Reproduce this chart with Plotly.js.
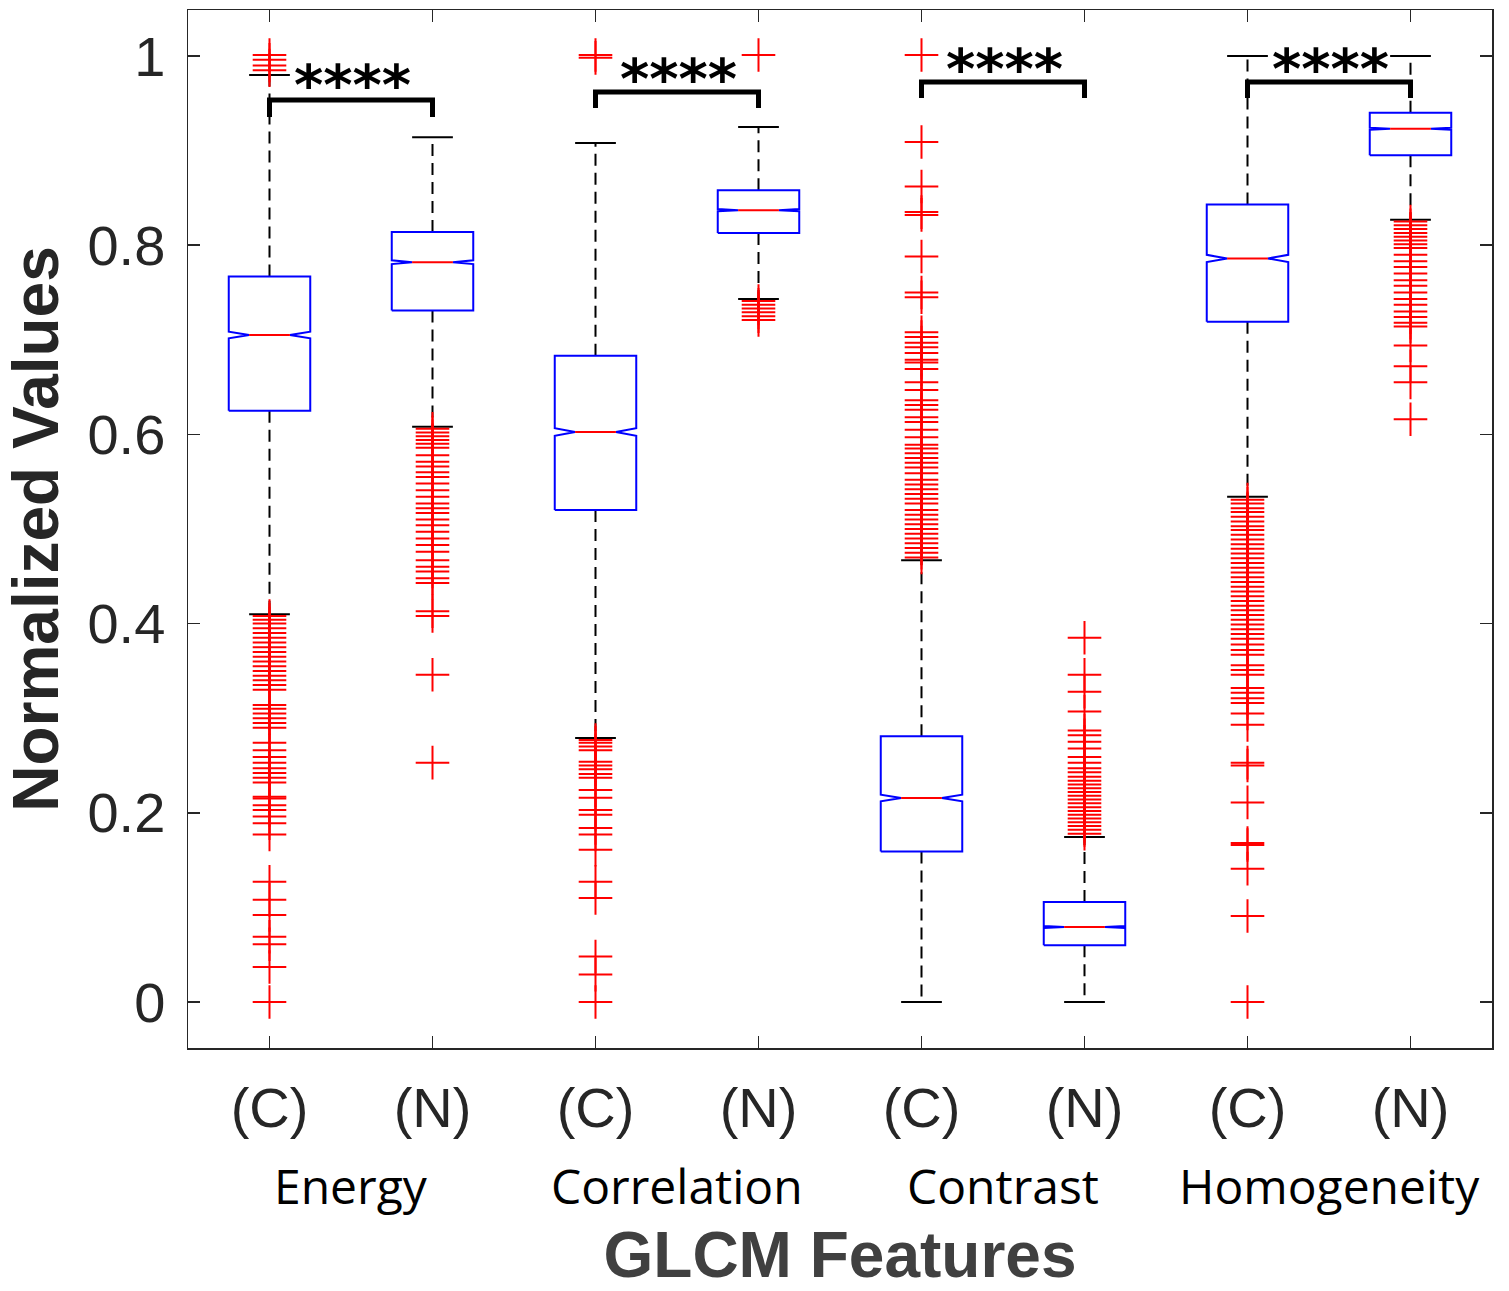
<!DOCTYPE html>
<html><head><meta charset="utf-8">
<script src="https://cdn.plot.ly/plotly-3.0.1.min.js"></script>
<style>html,body{margin:0;padding:0;background:#fff;} #chart{width:1509px;height:1291px;}</style>
</head><body><div id="chart"></div>
<script>
// ---- data ----
const categories = ['(C)','(N)','(C)','(N)','(C)','(N)','(C)','(N)'];
const groups = ['Energy','Correlation','Contrast','Homogeneity'];
const q1           = [0.625, 0.731, 0.520, 0.813, 0.159, 0.060, 0.719, 0.895];
const medians      = [0.705, 0.782, 0.6025,0.837, 0.2157,0.0793,0.786, 0.923];
const q3           = [0.767, 0.814, 0.683, 0.858, 0.281, 0.1057,0.843, 0.940];
const lowerWhisker = [0.410, 0.608, 0.279, 0.743, 0.000, 0.000, 0.534, 0.827];
const upperWhisker = [0.980, 0.914, 0.908, 0.925, 0.467, 0.1744,1.000, 1.000];
const notchHalf    = [0.0035,0.0020,0.0040,0.0012,0.0035,0.0010,0.0038,0.0011];

const outEnergyC = [1.001,0.996,0.990,0.985,
  0.408,0.404,0.400,0.395,0.390,0.385,0.380,0.375,0.370,0.365,0.360,0.355,0.350,0.345,0.340,0.335,0.330,
  0.314,0.310,0.305,0.300,0.295,0.290,0.274,0.266,0.259,0.253,0.247,0.242,0.237,0.232,0.217,0.215,
  0.208,0.203,0.196,0.189,0.177,0.127,0.108,0.092,0.069,0.061,0.037,0.000];
const outEnergyN = [0.606,0.602,0.598,0.594,0.590,0.586,0.578,0.571,0.566,0.560,0.555,0.548,0.541,0.534,
  0.527,0.522,0.517,0.510,0.504,0.497,0.490,0.483,0.476,0.467,0.460,0.455,0.448,0.443,0.413,0.408,0.346,0.253];
const outCorrC = [1.001,0.998,
  0.277,0.274,0.270,0.266,0.254,0.250,0.246,0.241,0.237,0.224,0.216,0.203,0.198,0.184,0.177,0.161,
  0.127,0.110,0.048,0.029,0.000];
const outCorrN = [1.001,0.741,0.737,0.733,0.729,0.725,0.721];
const outContrastC = [1.001,0.909,0.862,0.835,0.832,0.788,0.750,0.745,0.708,0.703,0.697,0.692,0.686,0.679,
  0.676,0.669,0.655,0.647,0.636,0.631,0.626,0.618,0.613,0.605,0.597,0.589,0.585,0.580,0.575,0.570,0.565,
  0.559,0.552,0.547,0.542,0.537,0.532,0.527,0.520,0.515,0.510,0.505,0.500,0.495,0.490,0.485,0.480,0.475,0.470];
const outContrastN = [0.385,0.346,0.328,0.307,0.287,0.282,0.275,0.268,0.259,0.253,0.247,0.243,0.238,0.234,
  0.230,0.226,0.222,0.218,0.214,0.210,0.206,0.202,0.198,0.194,0.190,0.186,0.182,0.178];
const outHomogC = [0.531,0.527,0.522,0.518,0.513,0.508,0.503,0.499,0.494,0.489,0.484,0.479,0.474,0.469,
  0.464,0.459,0.454,0.449,0.444,0.439,0.434,0.429,0.424,0.419,0.414,0.409,0.404,0.399,0.394,0.389,0.384,
  0.378,0.372,0.367,0.356,0.351,0.346,0.332,0.327,0.321,0.316,0.305,0.293,0.253,0.250,0.211,0.168,0.166,
  0.141,0.091,0.000];
const outHomogN = [0.825,0.821,0.817,0.813,0.809,0.805,0.801,0.797,0.790,0.783,0.777,0.770,0.763,0.757,
  0.750,0.743,0.737,0.730,0.724,0.718,0.714,0.694,0.672,0.655,0.616];
const outliers = [outEnergyC,outEnergyN,outCorrC,outCorrN,outContrastC,outContrastN,outHomogC,outHomogN];

const sigLabels  = ['****','****','****','****'];
const bracketTop = [0.9535, 0.962, 0.9725, 0.9725];
const bracketTip = [0.9355, 0.945, 0.9556, 0.9556];
const starY      = [0.970, 0.976, 0.987, 0.987];

// ---- build traces ----
const HW = 0.25, NW = 0.125, CW = 0.125;
const xs = categories.map((_, i) => i + 1);
const traces = [];
const base = {type:'scatter', mode:'lines', hoverinfo:'skip', showlegend:false};

xs.forEach((x, i) => {
  traces.push(Object.assign({}, base, {
    x:[x, x, null, x, x], y:[q3[i], upperWhisker[i], null, q1[i], lowerWhisker[i]],
    line:{color:'#000', width:2, dash:'12px,7px'}}));
  traces.push(Object.assign({}, base, {
    x:[x-CW, x+CW, null, x-CW, x+CW], y:[upperWhisker[i], upperWhisker[i], null, lowerWhisker[i], lowerWhisker[i]],
    line:{color:'#000', width:2}}));
});
xs.forEach((x, i) => {
  const m = medians[i], n = notchHalf[i];
  traces.push(Object.assign({}, base, {
    x:[x-HW, x-HW, x-NW, x-HW, x-HW, x+HW, x+HW, x+NW, x+HW, x+HW, x-HW],
    y:[q1[i], m-n, m, m+n, q3[i], q3[i], m+n, m, m-n, q1[i], q1[i]],
    line:{color:'#0000FF', width:2}}));
  traces.push(Object.assign({}, base, {
    x:[x-NW, x+NW], y:[m, m], line:{color:'#FF0000', width:2}}));
});
xs.forEach((x, i) => {
  traces.push({type:'scatter', mode:'markers', hoverinfo:'skip', showlegend:false,
    x: outliers[i].map(() => x), y: outliers[i],
    marker:{symbol:'cross-thin', size:24, color:'#FF0000', line:{color:'#FF0000', width:2}}});
});
const annotations = [];
groups.forEach((g, k) => {
  const x1 = 2*k + 1, x2 = 2*k + 2;
  traces.push(Object.assign({}, base, {
    x:[x1, x1, x2, x2], y:[bracketTip[k], bracketTop[k], bracketTop[k], bracketTip[k]],
    line:{color:'#000', width:5}}));
  annotations.push({x:x1 + 0.51, y:starY[k], xref:'x', yref:'y', text:sigLabels[k], showarrow:false,
    xanchor:'center', yanchor:'middle',
    font:{family:'DejaVu Sans', size:56, color:'#000', weight:'bold'}});
  annotations.push({x:(x1 + x2)/2, y:-0.132, xref:'x', yref:'paper', text:g, showarrow:false,
    xanchor:'center', yanchor:'middle',
    font:{family:'Open Sans', size:48, color:'#000'}});
});

const axisCommon = {showline:true, linecolor:'#262626', linewidth:1.5, mirror:'ticks',
  ticks:'inside', ticklen:12, tickwidth:1.5, tickcolor:'#262626', showgrid:false, zeroline:false};

const layout = {
  width:1509, height:1291, paper_bgcolor:'#fff', plot_bgcolor:'#fff',
  margin:{l:188, r:17, t:10, b:243},
  showlegend:false,
  xaxis: Object.assign({}, axisCommon, {
    range:[0.5, 8.5], tickmode:'array', tickvals:xs, ticktext:categories,
    tickfont:{family:'Liberation Sans', size:56, color:'#262626'}, ticklabelstandoff:10,
    title:{text:'GLCM Features', standoff:119,
      font:{family:'Liberation Sans', size:64, color:'#404040', weight:'bold'}}}),
  yaxis: Object.assign({}, axisCommon, {
    range:[-0.0486, 1.0486], tickmode:'array', tickvals:[0,0.2,0.4,0.6,0.8,1],
    ticktext:['0','0.2','0.4','0.6','0.8','1'],
    tickfont:{family:'Liberation Sans', size:56, color:'#262626'}, ticklabelstandoff:10,
    title:{text:'Normalized Values', standoff:22,
      font:{family:'Liberation Sans', size:64, color:'#262626', weight:'bold'}}}),
  annotations: annotations
};
Plotly.newPlot('chart', traces, layout, {staticPlot:true, displayModeBar:false});
</script></body></html>
